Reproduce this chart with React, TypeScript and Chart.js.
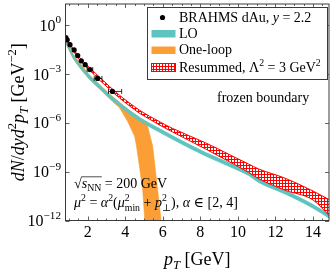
import React, { useEffect, useRef } from "react";
import { Chart, registerables } from "chart.js";

Chart.register(...registerables);

// ---- data ----
// BRAHMS dAu, y = 2.2
const brahmsPt = [0.84, 0.91, 1.06, 1.28, 1.47, 1.66, 1.87, 2.12, 2.53, 3.32];
const brahmsYield = [0.174, 0.126, 0.0631, 0.0302, 0.0135, 6.46e-3, 3.72e-3, 1.86e-3, 5.37e-4, 8.51e-5];
const brahmsPtErrLow = [0, 0, 0, 0, 0, 0, 0, 0.15, 0.18, 0.21];
const brahmsPtErrHigh = [0, 0, 0, 0, 0, 0, 0, 0.15, 0.23, 0.49];

// common pT grid for the LO and resummed bands
const bandPt = [0.8, 1.2, 1.59, 2.1, 2.65, 3.18, 3.7, 4.23, 4.76, 5.29, 5.82, 6.5, 8.28, 9.51, 10.57, 11.1, 12.51, 14.0, 14.9];
const resummedUpper = [0.2, 0.0398, 9.77e-3, 2.46e-3, 6.17e-4, 1.66e-4, 4.9e-5, 1.66e-5, 6.03e-6, 2.57e-6, 1.2e-6, 4.68e-7, 5.89e-8, 1.18e-8, 2.95e-9, 1.48e-9, 3.98e-10, 6.46e-11, 1.82e-11];
const resummedLower = [0.158, 0.0302, 6.92e-3, 1.74e-3, 4.07e-4, 1.12e-4, 3.31e-5, 1.1e-5, 3.89e-6, 1.7e-6, 7.41e-7, 2.82e-7, 2.46e-8, 4.27e-9, 8.91e-10, 3.72e-10, 7.24e-11, 1.82e-11, 1.78e-12];
const loUpper = [0.162, 0.0178, 3.98e-3, 7.76e-4, 2.0e-4, 5.37e-5, 1.74e-5, 5.75e-6, 2.19e-6, 9.55e-7, 4.47e-7, 1.66e-7, 1.51e-8, 3.63e-9, 9.55e-10, 3.63e-10, 7.08e-11, 9.55e-12, 2.19e-12];
const loLower = [0.0977, 0.0107, 2.4e-3, 4.68e-4, 1.2e-4, 3.24e-5, 1.05e-5, 3.47e-6, 1.32e-6, 5.75e-7, 2.69e-7, 1.0e-7, 9.12e-9, 2.19e-9, 5.75e-10, 2.19e-10, 4.27e-11, 5.75e-12, 1.32e-12];

// One-loop band
const oneLoopPt = [0.8, 1.2, 1.59, 2.1, 2.65, 3.18, 3.7, 4.13, 4.5, 4.6, 4.76, 4.93, 5.05, 5.18, 5.29, 5.46, 5.73, 5.92, 6.03];
const oneLoopUpper = [0.151, 0.0186, 4.68e-3, 8.71e-4, 2.19e-4, 5.75e-5, 1.82e-5, 7.08e-6, 3.55e-6, 2.95e-6, 1.91e-6, 1.26e-6, 1.0e-6, 6.92e-7, 2.24e-7, 3.72e-8, 7.24e-11, 7.41e-13, 3.55e-14];
const oneLoopLower = [0.105, 0.0102, 2.4e-3, 4.68e-4, 1.17e-4, 2.88e-5, 8.32e-6, 1.2e-6, 1.48e-7, 3.72e-8, 2.0e-9, 7.24e-11, 7.41e-13, 3.98e-15, 1e-16, 1e-17, 1e-18, 1e-19, 1e-20];

// axes
const xMin = 0.82;
const xMax = 14.85;
const yMin = 1e-12;
const yMax = 20;
const xTickValues = [2, 4, 6, 8, 10, 12, 14];
const xTickLabels = ["2", "4", "6", "8", "10", "12", "14"];
const xMinorStep = 0.5;
const yTickValues = [1, 1e-3, 1e-6, 1e-9, 1e-12];
const yTickExponents = ["0", "\u22123", "\u22126", "\u22129", "\u221212"];

// ---- styling ----
const SERIF = "'Liberation Serif', 'DejaVu Serif', serif";
const AXIS = "#3a3a3a";
const TEAL = "#5ec4c0";
const ORANGE = "#fa9e35";
const RED = "#ff0000";

type Seg = { t?: string; i?: boolean; s?: number; dy?: number; up?: string; dn?: string; over?: boolean };
const sup = (t: string): Seg => ({ t, s: 0.7, dy: -0.42 });
const sub = (t: string, i = false): Seg => ({ t, s: 0.7, dy: 0.2, i });
const stack = (up: string, dn: string): Seg => ({ up, dn });

function fontOf(size: number, it?: boolean) {
  return `${it ? "italic " : ""}${size}px ${SERIF}`;
}

function segWidth(ctx: CanvasRenderingContext2D, seg: Seg, size: number) {
  if (seg.up !== undefined) {
    ctx.font = fontOf(size * 0.7);
    const a = ctx.measureText(seg.up).width;
    const b = ctx.measureText(seg.dn || "").width;
    return Math.max(a, b);
  }
  ctx.font = fontOf(size * (seg.s ?? 1), seg.i);
  return ctx.measureText(seg.t || "").width;
}

function drawRich(
  ctx: CanvasRenderingContext2D,
  segs: Seg[],
  x: number,
  y: number,
  size: number,
  align: "left" | "center" | "right" = "left"
) {
  const widths = segs.map((s) => segWidth(ctx, s, size));
  const total = widths.reduce((a, b) => a + b, 0);
  let cx = align === "center" ? x - total / 2 : align === "right" ? x - total : x;
  ctx.fillStyle = "#000";
  ctx.textAlign = "left";
  ctx.textBaseline = "alphabetic";
  let o0: number | null = null;
  let o1 = 0;
  segs.forEach((s, k) => {
    if (s.up !== undefined) {
      ctx.font = fontOf(size * 0.7);
      ctx.fillText(s.up, cx, y - size * 0.4);
      ctx.fillText(s.dn || "", cx, y + size * 0.25);
    } else {
      ctx.font = fontOf(size * (s.s ?? 1), s.i);
      ctx.fillText(s.t || "", cx, y + (s.dy ?? 0) * size);
    }
    if (s.over) {
      if (o0 === null) o0 = cx;
      o1 = cx + widths[k];
    }
    cx += widths[k];
  });
  if (o0 !== null) {
    ctx.strokeStyle = "#000";
    ctx.lineWidth = 0.7;
    ctx.beginPath();
    ctx.moveTo(o0 - 0.5, y - size * 0.8);
    ctx.lineTo(o1 + 0.5, y - size * 0.8);
    ctx.stroke();
  }
  return total;
}

export default function App() {
  const ref = useRef<HTMLCanvasElement>(null);

  useEffect(() => {
    const canvas = ref.current!;
    const ctx0 = canvas.getContext("2d")!;
    const pc = document.createElement("canvas");
    pc.width = 3;
    pc.height = 3;
    const p = pc.getContext("2d")!;
    p.fillStyle = "#ffffff";
    p.fillRect(0, 0, 3, 3);
    p.fillStyle = RED;
    p.fillRect(0, 0, 3, 1);
    p.fillRect(0, 0, 1, 3);
    const hatch = ctx0.createPattern(pc, "repeat")!;

    const pts = (xs: number[], ys: number[]) => xs.map((x, i) => ({ x, y: ys[i] }));

    const decor = {
      id: "decor",
      afterDatasetsDraw(chart: any) {
        const ctx: CanvasRenderingContext2D = chart.ctx;
        const xs = chart.scales.x;
        const ys = chart.scales.y;
        ctx.save();
        ctx.strokeStyle = "#000";
        ctx.lineWidth = 0.8;
        brahmsPt.forEach((x, i) => {
          const lo = brahmsPtErrLow[i];
          const hi = brahmsPtErrHigh[i];
          if (!lo && !hi) return;
          const py = ys.getPixelForValue(brahmsYield[i]);
          const a = xs.getPixelForValue(x - lo);
          const b = xs.getPixelForValue(x + hi);
          ctx.beginPath();
          ctx.moveTo(a, py);
          ctx.lineTo(b, py);
          ctx.moveTo(a, py - 2.5);
          ctx.lineTo(a, py + 2.5);
          ctx.moveTo(b, py - 2.5);
          ctx.lineTo(b, py + 2.5);
          ctx.stroke();
        });
        ctx.restore();
      },
      afterDraw(chart: any) {
        const ctx: CanvasRenderingContext2D = chart.ctx;
        const xs = chart.scales.x;
        const ys = chart.scales.y;
        const a = chart.chartArea;
        ctx.save();

        // frame
        ctx.strokeStyle = AXIS;
        ctx.lineWidth = 1;
        ctx.strokeRect(a.left, a.top, a.right - a.left, a.bottom - a.top);

        // x ticks (inward, bottom and top)
        ctx.lineWidth = 0.8;
        ctx.beginPath();
        for (let v = 1; v < xMax; v += xMinorStep) {
          const px = Math.round(xs.getPixelForValue(v)) + 0.5;
          const len = xTickValues.includes(v) ? 4 : 2;
          ctx.moveTo(px, a.bottom);
          ctx.lineTo(px, a.bottom - len);
          ctx.moveTo(px, a.top);
          ctx.lineTo(px, a.top + len);
        }
        // y ticks (inward, left and right)
        yTickValues.forEach((v) => {
          const py = Math.round(ys.getPixelForValue(v)) + 0.5;
          ctx.moveTo(a.left, py);
          ctx.lineTo(a.left + 4, py);
          ctx.moveTo(a.right, py);
          ctx.lineTo(a.right - 4, py);
        });
        ctx.stroke();

        // tick labels
        xTickValues.forEach((v, i) => {
          drawRich(ctx, [{ t: xTickLabels[i] }], xs.getPixelForValue(v), 237, 16, "center");
        });
        yTickValues.forEach((v, i) => {
          const py = ys.getPixelForValue(v);
          drawRich(ctx, [{ t: "10" }, { t: yTickExponents[i], s: 0.7, dy: -0.45 }], 61, py + 5.5, 16, "right");
        });

        // axis titles
        drawRich(ctx, [{ t: "p", i: true }, sub("T", true), { t: " [GeV]" }], (a.left + a.right) / 2, 265, 18, "center");
        ctx.save();
        ctx.translate(24, (a.top + a.bottom) / 2);
        ctx.rotate(-Math.PI / 2);
        drawRich(
          ctx,
          [
            { t: "dN", i: true },
            { t: "/" },
            { t: "dyd", i: true },
            sup("2"),
            { t: "p", i: true },
            sub("T", true),
            { t: " [GeV" },
            sup("\u22122"),
            { t: "]" },
          ],
          0,
          0,
          18,
          "center"
        );
        ctx.restore();

        // legend
        ctx.fillStyle = "#ffffff";
        ctx.fillRect(147.5, 7.5, 180, 72);
        ctx.strokeStyle = AXIS;
        ctx.lineWidth = 1;
        ctx.strokeRect(147.5, 7.5, 180, 72);
        ctx.fillStyle = "#000";
        ctx.beginPath();
        ctx.arc(162.5, 17.5, 2.6, 0, Math.PI * 2);
        ctx.fill();
        ctx.fillStyle = TEAL;
        ctx.fillRect(151.5, 30, 24, 7.5);
        ctx.fillStyle = ORANGE;
        ctx.fillRect(151.5, 46.5, 24, 7.5);
        ctx.fillStyle = hatch;
        ctx.fillRect(151.5, 63.5, 24, 8);
        ctx.strokeStyle = RED;
        ctx.lineWidth = 1;
        ctx.strokeRect(151.5, 63.5, 24, 8);
        drawRich(ctx, [{ t: "BRAHMS dAu, " }, { t: "y", i: true }, { t: " = 2.2" }], 179, 21.7, 14);
        drawRich(ctx, [{ t: "LO" }], 179, 37.5, 14);
        drawRich(ctx, [{ t: "One-loop" }], 179, 54, 14);
        drawRich(ctx, [{ t: "Resummed, \u039b" }, sup("2"), { t: " = 3 GeV" }, sup("2")], 179, 72, 14);

        // annotations
        drawRich(ctx, [{ t: "frozen boundary" }], 217, 101.5, 14);
        drawRich(
          ctx,
          [{ t: "\u221a" }, { t: "s", i: true, over: true }, { ...sub("NN"), over: true }, { t: " = 200 GeV" }],
          74,
          188,
          14
        );
        drawRich(
          ctx,
          [
            { t: "\u03bc", i: true },
            sup("2"),
            { t: " = " },
            { t: "\u03b1", i: true },
            sup("2"),
            { t: "(" },
            { t: "\u03bc", i: true },
            stack("2", "min"),
            { t: " + " },
            { t: "p", i: true },
            stack("2", "\u22a5"),
            { t: "), " },
            { t: "\u03b1", i: true },
            { t: " \u2208 [2, 4]" },
          ],
          74,
          207,
          14
        );
        ctx.restore();
      },
    };

    const chart = new Chart(canvas, {
      type: "line",
      data: {
        datasets: [
          {
            label: "BRAHMS dAu, y = 2.2",
            data: pts(brahmsPt, brahmsYield),
            showLine: false,
            pointRadius: 2.6,
            pointBackgroundColor: "#000",
            pointBorderColor: "#000",
            pointBorderWidth: 0,
            order: 0,
          },
          {
            label: "Resummed upper",
            data: pts(bandPt, resummedUpper),
            borderColor: RED,
            borderWidth: 1,
            backgroundColor: hatch,
            fill: "+1",
            pointRadius: 0,
            cubicInterpolationMode: "monotone",
            order: 1,
          },
          {
            label: "Resummed lower",
            data: pts(bandPt, resummedLower),
            borderColor: RED,
            borderWidth: 1,
            fill: false,
            pointRadius: 0,
            cubicInterpolationMode: "monotone",
            order: 1,
          },
          {
            label: "LO upper",
            data: pts(bandPt, loUpper),
            borderColor: TEAL,
            borderWidth: 0.8,
            backgroundColor: TEAL,
            fill: "+1",
            pointRadius: 0,
            cubicInterpolationMode: "monotone",
            order: 2,
          },
          {
            label: "LO lower",
            data: pts(bandPt, loLower),
            borderColor: TEAL,
            borderWidth: 0.8,
            fill: false,
            pointRadius: 0,
            cubicInterpolationMode: "monotone",
            order: 2,
          },
          {
            label: "One-loop upper",
            data: pts(oneLoopPt, oneLoopUpper),
            borderColor: ORANGE,
            borderWidth: 0.6,
            backgroundColor: ORANGE,
            fill: "+1",
            pointRadius: 0,
            tension: 0,
            order: 3,
          },
          {
            label: "One-loop lower",
            data: pts(oneLoopPt, oneLoopLower),
            borderColor: ORANGE,
            borderWidth: 0.6,
            fill: false,
            pointRadius: 0,
            tension: 0,
            order: 3,
          },
        ],
      },
      options: {
        animation: false,
        responsive: false,
        maintainAspectRatio: false,
        events: [],
        layout: { padding: { left: 65.5, right: 1.5, top: 0.5, bottom: 52.5 } },
        plugins: {
          legend: { display: false },
          tooltip: { enabled: false },
          title: { display: false },
          filler: { drawTime: "beforeDatasetsDraw" },
        } as any,
        scales: {
          x: { type: "linear", min: xMin, max: xMax, display: false },
          y: { type: "logarithmic", min: yMin, max: yMax, display: false },
        },
      },
      plugins: [decor],
    });

    return () => chart.destroy();
  }, []);

  return (
    <div style={{ position: "fixed", left: 0, top: 0, width: 333, height: 273, background: "#fff" }}>
      <canvas ref={ref} width={333} height={273} style={{ display: "block", width: 333, height: 273 }} />
    </div>
  );
}
